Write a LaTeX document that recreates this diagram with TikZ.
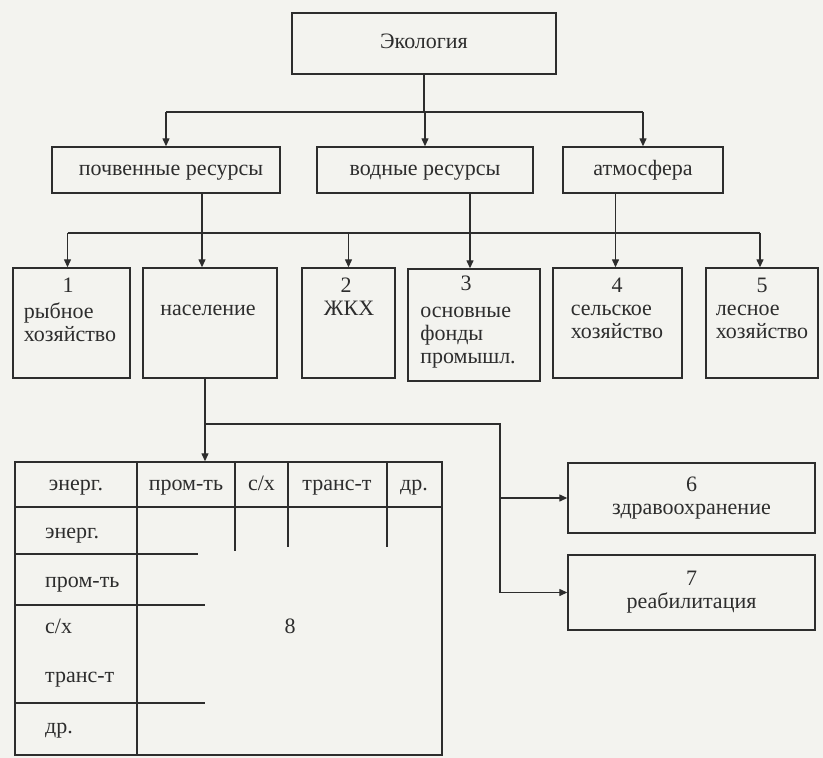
\documentclass[tikz,border=0pt]{standalone}
\usepackage{fontspec}
\setmainfont{Liberation Serif}
\usetikzlibrary{arrows.meta,calc}
\definecolor{ink}{RGB}{45,45,45}
\definecolor{paper}{RGB}{243,243,239}
\begin{document}
\begin{tikzpicture}[x=1pt,y=-1pt,
  font=\fontsize{22}{23}\selectfont,
  box/.style={draw=ink, line width=1.4pt, inner sep=0pt, text=ink, align=center},
  box1/.style={box, text height=15pt, text depth=5pt},
  lbl/.style={inner sep=0pt, text=ink, align=center, text height=15pt, text depth=5pt},
  lblL/.style={inner sep=0pt, text=ink, align=left},
  conn/.style={draw=ink, line width=1.3pt},
  arr/.style={conn, -{Triangle[length=8pt,width=7pt]}},
]
\fill[paper] (0,0) rectangle (823,758);
\useasboundingbox (0,0) rectangle (823,758);

% top
\node[box1, minimum width=264pt, minimum height=61pt] (eco) at (424,43.5) {Экология};
% second row
\node[box1, minimum width=228pt, minimum height=46pt] (soil) at (166,170) {\hspace*{10pt}почвенные ресурсы};
\node[box1, minimum width=216pt, minimum height=46pt] (water) at (425,170) {водные ресурсы};
\node[box1, minimum width=160pt, minimum height=46pt] (atm) at (643,170) {атмосфера};

% third row
\node[box, minimum width=117pt, minimum height=110pt] (b1) at (71.5,323) {};
\node[box, minimum width=134pt, minimum height=110pt] (pop) at (210,323) {};
\node[box, minimum width=93pt, minimum height=110pt] (zhkh) at (348.5,323) {};
\node[box, minimum width=132pt, minimum height=112pt] (b3) at (474,325) {};
\node[box, minimum width=129pt, minimum height=110pt] (b4) at (617.5,323) {};
\node[box, minimum width=112pt, minimum height=110pt] (b5) at (762,323) {};

\node[lbl] (n1) at (68,287) {1};
\node[lblL] (t1) at (70,322) {рыбное\\хозяйство};
\node[lbl] (tpop) at (208,310) {население};
\node[lbl] (n2) at (346,287) {2};
\node[lbl] (tzh) at (349,310) {ЖКХ};
\node[lbl] (n3) at (466,285) {3};
\node[lblL] (t3) at (468,338) {основные\\фонды\\промышл.};
\node[lbl] (n4) at (617,287) {4};
\node[lblL] (t4) at (617,322) {сельское\\хозяйство};
\node[lbl] (n5) at (762,287) {5};
\node[lblL] (t5) at (762,322) {лесное\\хозяйство};

% right boxes
\node[box, minimum width=247pt, minimum height=70pt] (h6) at (691.5,498) {6\\здравоохранение};
\node[box, minimum width=247pt, minimum height=75pt] (r7) at (691.5,592.5) {7\\реабилитация};

% table
\node[box, minimum width=427pt, minimum height=293pt] (tbl) at (228.5,608.5) {};
\draw[conn] (15,507) -- (442,507);
\draw[conn] (137,462) -- (137,755);
\draw[conn] (235,462) -- (235,551);
\draw[conn] (288,462) -- (288,547);
\draw[conn] (387,462) -- (387,547);
\draw[conn] (15,554) -- (198,554);
\draw[conn] (15,605) -- (205,605);
\draw[conn] (15,703) -- (205,703);

\node[lbl] (h1) at (76,485) {энерг.};
\node[lbl] (h2) at (186,485) {пром-ть};
\node[lbl] (h3) at (261.5,485) {с/х};
\node[lbl] (h4) at (337,485) {транс-т};
\node[lbl] (h5) at (414,485) {др.};
\node[lbl, anchor=west] (r1) at (45,533) {энерг.};
\node[lbl, anchor=west] (r2) at (45,582) {пром-ть};
\node[lbl, anchor=west] (r3) at (45,628) {с/х};
\node[lbl, anchor=west] (r4) at (45,677) {транс-т};
\node[lbl, anchor=west] (r5) at (45,728) {др.};
\node[lbl] (n8) at (290,628) {8};

% connectors
\coordinate (busA) at (0,112);
\draw[conn] (eco.south) -- (eco.south |- busA);
\draw[conn] (soil.north |- busA) -- (atm.north |- busA);
\draw[arr] (soil.north |- busA) -- (soil.north);
\draw[arr] (water.north |- busA) -- (water.north);
\draw[arr] (atm.north |- busA) -- (atm.north);

\coordinate (busB) at (0,233);
\coordinate (pin) at ([xshift=-8pt]pop.north);
\coordinate (b3in) at ([xshift=-4pt]b3.north);
\coordinate (b4in) at ([xshift=-2pt]b4.north);
\draw[conn] ([xshift=-4pt]b1.north |- busB) -- ([xshift=-2pt]b5.north |- busB);
\draw[arr] ([xshift=-4pt]b1.north |- busB) -- ([xshift=-4pt]b1.north);
\draw[arr] (zhkh.north |- busB) -- (zhkh.north);
\draw[arr] ([xshift=-2pt]b5.north |- busB) -- ([xshift=-2pt]b5.north);
\draw[arr] (pin |- soil.south) -- (pin);
\draw[arr] (b3in |- water.south) -- (b3in);
\draw[arr] (b4in |- atm.south) -- (b4in);

\coordinate (pd) at ([xshift=-5pt]pop.south);
\coordinate (j) at (500,424);
\draw[arr] (pd) -- (pd |- tbl.north);
\draw[conn] (pd |- j) -- (j) -- (j |- r7.west);
\draw[arr] (j |- h6.west) -- (h6.west);
\draw[arr] (j |- r7.west) -- (r7.west);
\end{tikzpicture}
\end{document}
